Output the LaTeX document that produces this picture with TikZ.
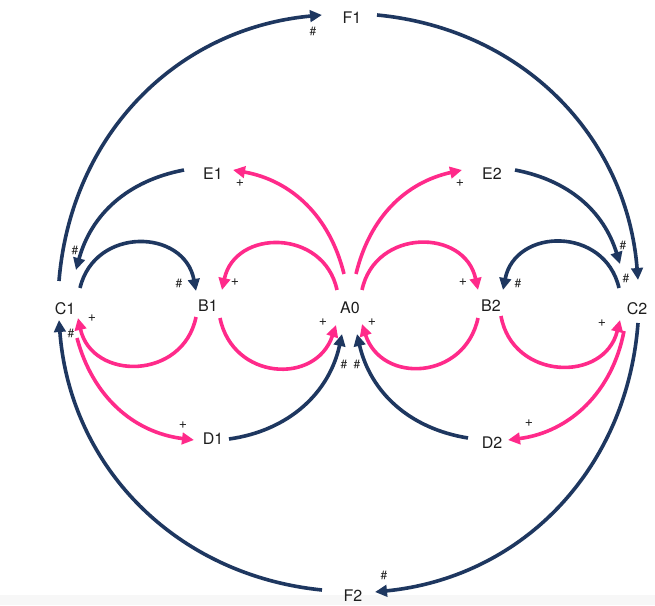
\documentclass[tikz,border=0pt]{standalone}
\usepackage{fontspec}
\setmainfont{TeX Gyre Heros}
\usetikzlibrary{arrows.meta}
\definecolor{navy}{RGB}{30,55,96}
\definecolor{hotpink}{RGB}{255,42,138}
\definecolor{band}{RGB}{247,247,247}
\definecolor{ink}{RGB}{30,30,30}
\tikzset{
  var/.style={inner sep=0pt, text=ink, font=\fontsize{16}{18}\selectfont},
  sgn/.style={inner sep=0pt, text=ink, font=\fontsize{12}{14}\selectfont},
  plus/.style={inner sep=0pt, text=ink, font=\fontsize{14}{16}\selectfont},
  neglink/.style={draw=navy, line width=3.6pt, -{Triangle[length=12pt,width=11.5pt]}},
  poslink/.style={draw=hotpink, line width=3.6pt, -{Triangle[length=12pt,width=11.5pt]}},
  tightarc/.style={looseness=1.4}
}
\begin{document}
\begin{tikzpicture}[x=1pt,y=1pt]
\useasboundingbox (0,0) rectangle (655,605);
\fill[white] (0,0) rectangle (655,605);
\fill[band] (0,0) rectangle (655,10);

% variables
\node[var] (F1) at (352,587) {F1};
\node[var] (E1) at (213,431) {E1};
\node[var] (E2) at (492,431) {E2};
\node[var] (C1) at (65,296) {C1};
\node[var] (B1) at (208,299) {B1};
\node[var] (A0) at (350,297) {A0};
\node[var] (B2) at (491,299) {B2};
\node[var] (C2) at (637,296) {C2};
\node[var] (D1) at (213,166) {D1};
\node[var] (D2) at (492,162) {D2};
\node[var] (F2) at (353,9) {F2};

% navy links
\draw[neglink] ([shift={(-6,28)}]C1.center) to[bend left=40] ([shift={(-30,3)}]F1.center);
\draw[neglink] ([shift={(25,3)}]F1.center) to[bend left=40] ([shift={(1,29)}]C2.center);
\draw[neglink] ([shift={(1,-14)}]C2.center) to[bend left=40] ([shift={(22,4)}]F2.center);
\draw[neglink] ([shift={(-31,6)}]F2.center) to[bend left=40] ([shift={(-6,-11)}]C1.center);
\draw[neglink] ([shift={(-29,4)}]E1.center) to[bend right=32] ([shift={(11,39)}]C1.center);
\draw[neglink] ([shift={(23,4)}]E2.center) to[bend left=31] ([shift={(-17,45)}]C2.center);
\draw[neglink] ([shift={(16,0)}]D1.center) to[bend right=35] ([shift={(-8,-26)}]A0.center);
\draw[neglink] ([shift={(-24,5)}]D2.center) to[bend left=34] ([shift={(7,-26)}]A0.center);
\draw[neglink,tightarc] ([shift={(15,21)}]C1.center) to[bend left=78] ([shift={(-12,15)}]B1.center);
\draw[neglink,tightarc] ([shift={(-18,21)}]C2.center) to[bend right=78] ([shift={(12,16)}]B2.center);

% pink links
\draw[poslink] ([shift={(-6,34)}]A0.center) to[bend right=33] ([shift={(20,4)}]E1.center);
\draw[poslink] ([shift={(6,34)}]A0.center) to[bend left=32] ([shift={(-30,4)}]E2.center);
\draw[poslink,tightarc] ([shift={(-13,18)}]A0.center) to[bend right=78] ([shift={(14,16)}]B1.center);
\draw[poslink,tightarc] ([shift={(12,18)}]A0.center) to[bend left=78] ([shift={(-13,16)}]B2.center);
\draw[poslink,tightarc] ([shift={(-12,-11)}]B1.center) to[bend left=78] ([shift={(13,-9)}]C1.center);
\draw[poslink,tightarc] ([shift={(12,-12)}]B1.center) to[bend right=75] ([shift={(-14,-17)}]A0.center);
\draw[poslink,tightarc] ([shift={(-13,-12)}]B2.center) to[bend left=75] ([shift={(12,-16)}]A0.center);
\draw[poslink,tightarc] ([shift={(10,-10)}]B2.center) to[bend right=78] ([shift={(-17,-11)}]C2.center);
\draw[poslink] ([shift={(12,-29)}]C1.center) to[bend right=34] ([shift={(-19,-1)}]D1.center);
\draw[poslink] ([shift={(-13,-22)}]C2.center) to[bend left=36] ([shift={(16,3)}]D2.center);

% signs
\node[sgn] (s1) at (313,574) {\#};
\node[sgn] (s2) at (75,355) {\#};
\node[sgn] (s3) at (179,322) {\#};
\node[plus] (s4) at (240,422) {+};
\node[plus] (s5) at (235,323) {+};
\node[plus] (s6) at (460,422) {+};
\node[plus] (s7) at (463,323) {+};
\node[sgn] (s8) at (518,322) {\#};
\node[sgn] (s9) at (623,360) {\#};
\node[sgn] (s10) at (626,327) {\#};
\node[plus] (s11) at (92,287) {+};
\node[sgn] (s12) at (71,272) {\#};
\node[plus] (s13) at (323,283) {+};
\node[plus] (s14) at (183,180) {+};
\node[plus] (s15) at (372,283) {+};
\node[sgn] (s16) at (344,241) {\#};
\node[sgn] (s17) at (357,241) {\#};
\node[plus] (s18) at (602,282) {+};
\node[plus] (s19) at (529,182) {+};
\node[sgn] (s20) at (384,30) {\#};
\end{tikzpicture}
\end{document}
